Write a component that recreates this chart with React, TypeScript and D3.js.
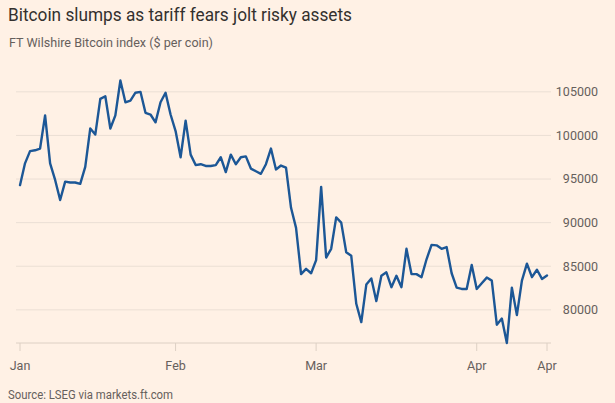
import { useEffect } from "react";
import * as d3 from "d3";

// FT Wilshire Bitcoin index, daily from 1 Jan 2025
const START = new Date(2025, 0, 1);
const prices = [
  94300, 96800, 98200, 98300, 98500, 102300, 96800, 94900, 92600, 94700,
  94600, 94600, 94450, 96400, 100800, 100100, 104200, 104500, 100800, 102300,
  106300, 103800, 104000, 104900, 105000, 102600, 102400, 101500, 103800, 104900,
  102400, 100500, 97500, 101700, 97800, 96600, 96700, 96500, 96500, 96600,
  97500, 95800, 97800, 96700, 97500, 97600, 96200, 95900, 95600, 96700,
  98500, 96100, 96550, 96300, 91700, 89400, 84100, 84700, 84200, 85700,
  94100, 86000, 87000, 90600, 90000, 86600, 86200, 80700, 78600, 82900,
  83600, 81000, 83900, 84300, 82600, 83900, 82600, 87000, 84100, 84100,
  83750, 85800, 87450, 87400, 87000, 87200, 84200, 82550, 82400, 82400,
  85150, 82400, 83050, 83700, 83350, 78300, 79000, 76200, 82550, 79400,
  83350, 85300, 83750, 84600, 83550, 83950,
];

const tickDates = [
  new Date(2025, 0, 1),
  new Date(2025, 1, 1),
  new Date(2025, 2, 1),
  new Date(2025, 3, 2),
  new Date(2025, 3, 16),
];
const tickLabels = ["Jan", "Feb", "Mar", "Apr", "Apr"];
const yTicks = [80000, 85000, 90000, 95000, 100000, 105000];

const W = 615;
const H = 403;
const FONT = "Roboto, 'Noto Sans', sans-serif";
const BG = "#fff1e5";

export default function App() {
  useEffect(() => {
    document.body.style.margin = "0";
    document.body.style.background = BG;
  }, []);

  const dates = prices.map((_, i) => d3.timeDay.offset(START, i));
  const x = d3
    .scaleTime()
    .domain(d3.extent(dates) as [Date, Date])
    .range([20, 547]);
  const y = d3
    .scaleLinear()
    .domain(d3.extent(prices) as [number, number])
    .range([343, 80.5]);

  const line = d3
    .line<number>()
    .x((_, i) => x(dates[i]))
    .y((d) => y(d));

  const [y0] = y.range();

  return (
    <svg width={W} height={H} style={{ display: "block", background: BG }}>
      <rect width={W} height={H} fill={BG} />

      <text x={8} y={21} fontFamily={FONT} fontSize={17.5} fill="#33302e" textLength={344} lengthAdjust="spacingAndGlyphs">
        Bitcoin slumps as tariff fears jolt risky assets
      </text>
      <text x={9} y={46.5} fontFamily={FONT} fontSize={13.5} fill="#66605c" textLength={204} lengthAdjust="spacingAndGlyphs">
        FT Wilshire Bitcoin index ($ per coin)
      </text>

      {/* gridlines + right-hand labels */}
      {yTicks.map((t) => (
        <g key={t}>
          <line x1={16} x2={551} y1={y(t)} y2={y(t)} stroke="#ebdfd4" strokeWidth={1} />
          <text x={598} y={y(t)} dy="0.35em" textAnchor="end" fontFamily={FONT} fontSize={12.5} fill="#66605c">
            {t}
          </text>
        </g>
      ))}

      {/* x axis */}
      <line x1={16} x2={551} y1={y0} y2={y0} stroke="#ddd0c4" strokeWidth={1} />
      {tickDates.map((d, i) => (
        <g key={i} transform={`translate(${x(d)},${y0})`}>
          <line y1={0} y2={8} stroke="#ddd0c4" strokeWidth={1} />
          <text y={27} textAnchor="middle" fontFamily={FONT} fontSize={12.5} fill="#66605c">
            {tickLabels[i]}
          </text>
        </g>
      ))}

      <path d={line(prices) ?? ""} fill="none" stroke="#1c5796" strokeWidth={2.4} strokeLinejoin="round" strokeLinecap="round" />

      <text x={8} y={399} fontFamily={FONT} fontSize={12.5} fill="#66605c" textLength={165} lengthAdjust="spacingAndGlyphs">
        Source: LSEG via markets.ft.com
      </text>
    </svg>
  );
}
